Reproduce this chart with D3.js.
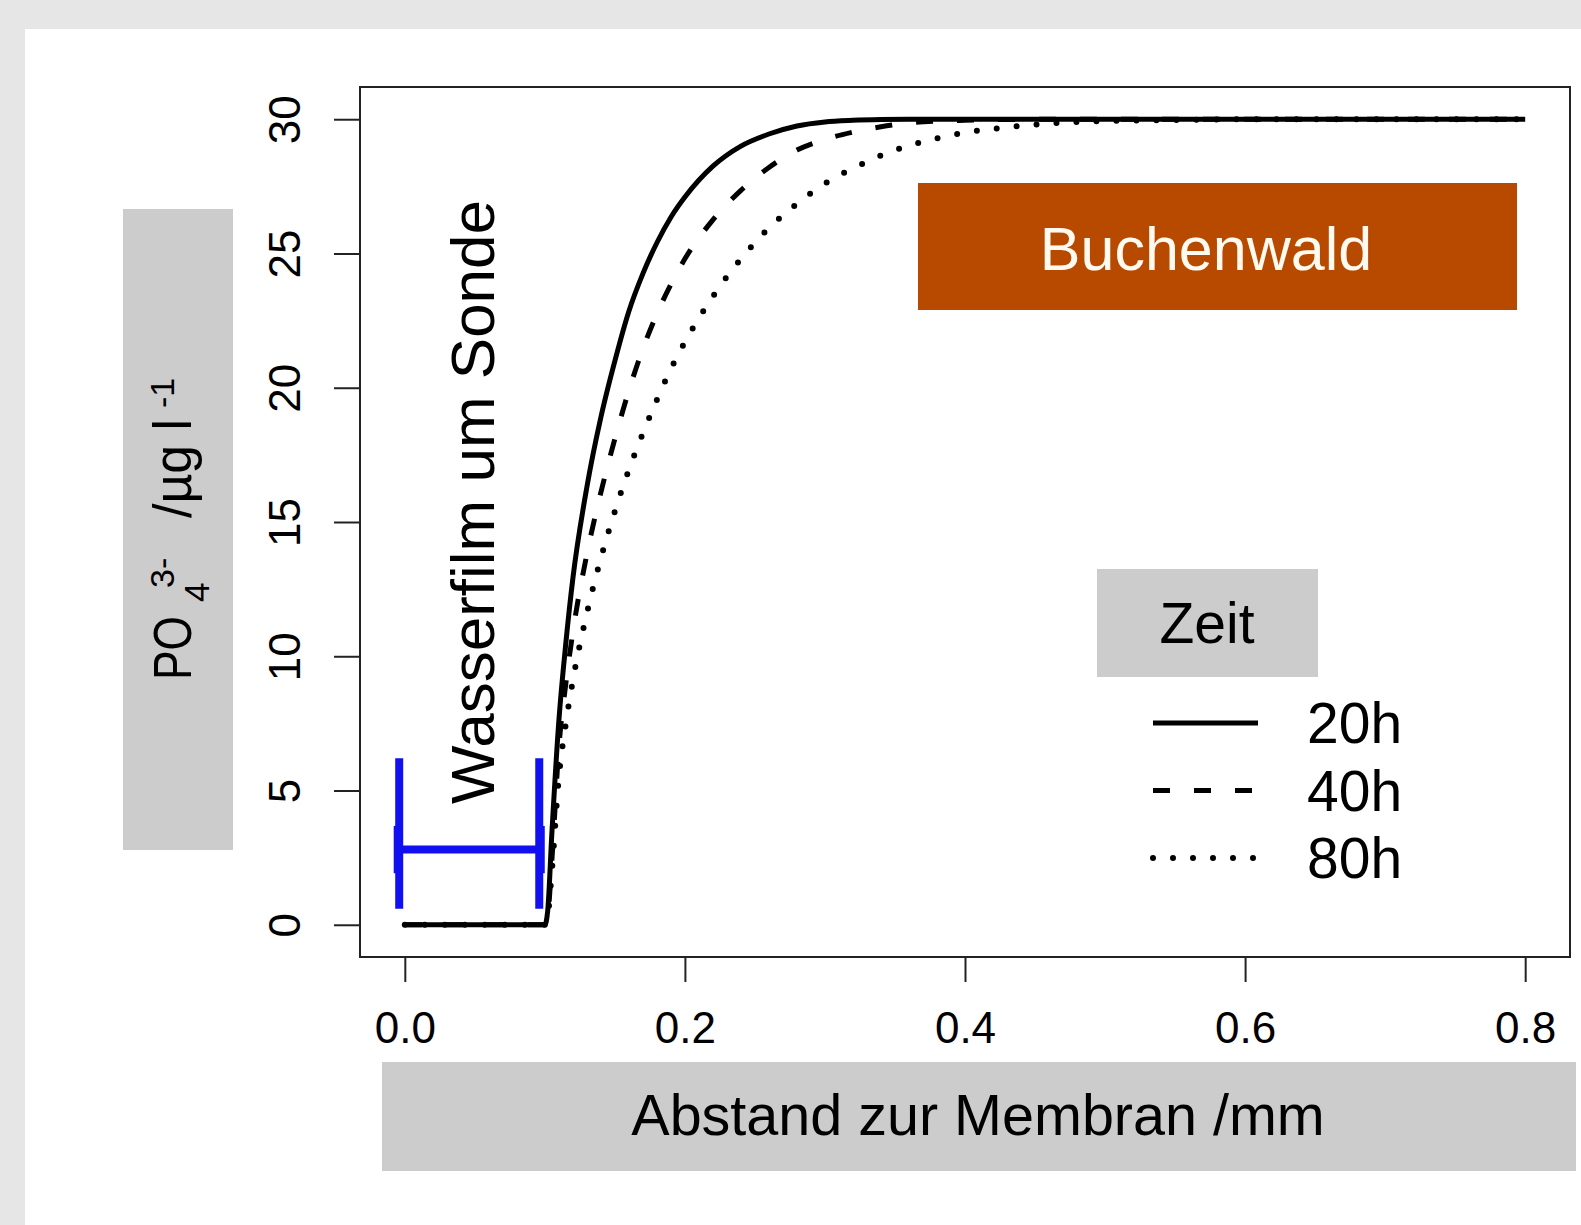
<!DOCTYPE html>
<html>
<head>
<meta charset="utf-8">
<script src="https://cdn.jsdelivr.net/npm/d3@7"></script>
<style>
  html, body { margin: 0; padding: 0; background: #e6e6e6; }
  svg { display: block; }
  text { font-family: "Liberation Sans", Arial, "DejaVu Sans", sans-serif; fill: #000; }
</style>
</head>
<body>
<svg id="chart" width="1581" height="1225"></svg>
<script>
// ---------------- data ----------------
const distance = [0, 0.1, 0.102, 0.105, 0.11, 0.115, 0.12, 0.13, 0.14, 0.15, 0.16, 0.17, 0.18, 0.19, 0.2,
                  0.22, 0.24, 0.26, 0.28, 0.30, 0.32, 0.34, 0.36, 0.38, 0.40, 0.43, 0.46, 0.5, 0.55, 0.6, 0.7, 0.8];
const conc20h = [0, 0, 0.5, 3.4, 7.6, 10.5, 12.9, 16.3, 18.9, 21.0, 22.85, 24.25, 25.4, 26.35, 27.1,
                 28.25, 29.0, 29.45, 29.75, 29.9, 29.96, 29.99, 30, 30, 30, 30, 30, 30, 30, 30, 30, 30];
const conc40h = [0, 0, 0.3, 2.4, 6.6, 9.0, 10.9, 13.8, 16.1, 18.1, 19.9, 21.45, 22.75, 23.85, 24.8,
                 26.25, 27.35, 28.2, 28.85, 29.25, 29.52, 29.72, 29.86, 29.93, 29.96, 29.99, 30, 30, 30, 30, 30, 30];
const conc80h = [0, 0, 0.3, 2.0, 5.5, 7.5, 9.1, 11.6, 13.65, 15.4, 16.95, 18.3, 19.55, 20.7, 21.7,
                 23.4, 24.8, 25.95, 26.85, 27.6, 28.17, 28.65, 29.02, 29.29, 29.5, 29.7, 29.84, 29.93, 29.97, 30, 30, 30];
const seriesNames = ["20h", "40h", "80h"];
const xTicks = [0, 0.2, 0.4, 0.6, 0.8];
const yTicks = [0, 5, 10, 15, 20, 25, 30];
// water film bar (distance range and concentration level / vertical extent)
const filmBar = { x0: -0.004, x1: 0.096, y: 2.8, yLow: 0.6, yHigh: 6.2, head: 0.88 };

// ---------------- layout ----------------
const svg = d3.select("#chart");
const plot = { left: 360, right: 1570, top: 87, bottom: 957 };
const x = d3.scaleLinear().domain([-0.032, 0.832]).range([plot.left, plot.right]);
const y = d3.scaleLinear().domain([-1.2, 31.2]).range([plot.bottom, plot.top]);

// backgrounds
svg.append("rect").attr("x", 0).attr("y", 0).attr("width", 1581).attr("height", 1225).attr("fill", "#e6e6e6");
svg.append("rect").attr("x", 25).attr("y", 29).attr("width", 1581 - 25).attr("height", 1225 - 29).attr("fill", "#ffffff");

// axis label boxes
svg.append("rect").attr("x", 123).attr("y", 209).attr("width", 110).attr("height", 641).attr("fill", "#cccccc");
svg.append("rect").attr("x", 382).attr("y", 1062).attr("width", 1194).attr("height", 109).attr("fill", "#cccccc");

// plot box
svg.append("rect").attr("x", plot.left).attr("y", plot.top)
  .attr("width", plot.right - plot.left).attr("height", plot.bottom - plot.top)
  .attr("fill", "#fff").attr("stroke", "#222").attr("stroke-width", 2);

// x axis
const gx = svg.append("g").attr("transform", `translate(0,${plot.bottom})`)
  .call(d3.axisBottom(x).tickValues(xTicks).tickFormat(d3.format(".1f")).tickSize(25).tickSizeOuter(0));
gx.select(".domain").remove();
gx.selectAll(".tick line").attr("stroke", "#222").attr("stroke-width", 2);
gx.selectAll(".tick text").attr("y", 86).attr("dy", 0).attr("font-size", 44)
  .attr("font-family", "Liberation Sans, Arial, sans-serif").attr("fill", "#000");

// y axis
const gy = svg.append("g").attr("transform", `translate(${plot.left},0)`)
  .call(d3.axisLeft(y).tickValues(yTicks).tickFormat(d3.format("d")).tickSize(26).tickSizeOuter(0));
gy.select(".domain").remove();
gy.selectAll(".tick line").attr("stroke", "#222").attr("stroke-width", 2);
gy.selectAll(".tick text").attr("transform", "rotate(-90)").attr("x", 0).attr("y", -60).attr("dy", 0)
  .attr("text-anchor", "middle").attr("font-size", 44)
  .attr("font-family", "Liberation Sans, Arial, sans-serif").attr("fill", "#000");

// x axis title
svg.append("text").attr("x", 978).attr("y", 1135).attr("text-anchor", "middle")
  .attr("font-size", 57.5).text("Abstand zur Membran /mm");

// y axis title (rotated, with sub/superscripts)
const yt = svg.append("text").attr("transform", "translate(191,678) rotate(-90)").attr("font-size", 53);
yt.append("tspan").attr("x", -2).attr("y", 0).attr("textLength", 64).attr("lengthAdjust", "spacingAndGlyphs").text("PO");
yt.append("tspan").attr("x", 76).attr("y", 18).attr("font-size", 35).text("4");
yt.append("tspan").attr("x", 90).attr("y", -17).attr("font-size", 34).text("3-");
yt.append("tspan").attr("x", 160).attr("y", 0).attr("textLength", 99).attr("lengthAdjust", "spacingAndGlyphs").text("/µg l");
yt.append("tspan").attr("x", 270).attr("y", -17).attr("font-size", 34).text("-1");

// water film annotation
svg.append("text").attr("transform", "translate(494,502) rotate(-90)").attr("text-anchor", "middle")
  .attr("font-size", 62).text("Wasserfilm um Sonde");

// Buchenwald box
svg.append("rect").attr("x", 918).attr("y", 183).attr("width", 599).attr("height", 127).attr("fill", "#b84a00");
svg.append("text").attr("x", 1206).attr("y", 270).attr("text-anchor", "middle").attr("font-size", 61)
  .style("fill", "#fffaf0").text("Buchenwald");

// curves
const series = [
  { name: seriesNames[0], values: conc20h, dash: null, cap: "butt", width: 5 },
  { name: seriesNames[1], values: conc40h, dash: "17 24", cap: "butt", width: 5 },
  { name: seriesNames[2], values: conc80h, dash: "0 20", cap: "round", width: 6 }
];
const line = d3.line().x(d => x(d[0])).y(d => y(d[1])).curve(d3.curveMonotoneX);
series.slice().reverse().forEach(s => {
  svg.append("path")
    .datum(distance.map((d, i) => [d, s.values[i]]))
    .attr("d", line)
    .attr("fill", "none").attr("stroke", "#000")
    .attr("stroke-width", s.width)
    .attr("stroke-linecap", s.cap)
    .attr("stroke-linejoin", "round")
    .attr("stroke-dasharray", s.dash);
});

// blue water film bar
const blue = "#1010f0";
const bar = svg.append("g").attr("stroke", blue).attr("stroke-width", 8).attr("fill", "none");
bar.append("line").attr("x1", x(filmBar.x0)).attr("x2", x(filmBar.x1)).attr("y1", y(filmBar.y)).attr("y2", y(filmBar.y));
[filmBar.x0, filmBar.x1].forEach(v => {
  bar.append("line").attr("x1", x(v)).attr("x2", x(v)).attr("y1", y(filmBar.yLow)).attr("y2", y(filmBar.yHigh));
});
bar.append("line").attr("x1", x(filmBar.x0) - 1.5).attr("x2", x(filmBar.x0) - 1.5)
  .attr("y1", y(filmBar.y - filmBar.head)).attr("y2", y(filmBar.y + filmBar.head));
bar.append("line").attr("x1", x(filmBar.x1) + 1.5).attr("x2", x(filmBar.x1) + 1.5)
  .attr("y1", y(filmBar.y - filmBar.head)).attr("y2", y(filmBar.y + filmBar.head));

// legend
svg.append("rect").attr("x", 1097).attr("y", 569).attr("width", 221).attr("height", 108).attr("fill", "#cccccc");
svg.append("text").attr("x", 1207).attr("y", 643).attr("text-anchor", "middle").attr("font-size", 57).text("Zeit");
const legendY = [723, 790.5, 858];
series.forEach((s, i) => {
  svg.append("line").attr("x1", 1153).attr("x2", 1258).attr("y1", legendY[i]).attr("y2", legendY[i])
    .attr("stroke", "#000").attr("stroke-width", s.width)
    .attr("stroke-linecap", s.cap).attr("stroke-dasharray", s.dash);
  svg.append("text").attr("x", 1307).attr("y", legendY[i] + 20).attr("font-size", 57).text(s.name);
});
</script>
</body>
</html>
